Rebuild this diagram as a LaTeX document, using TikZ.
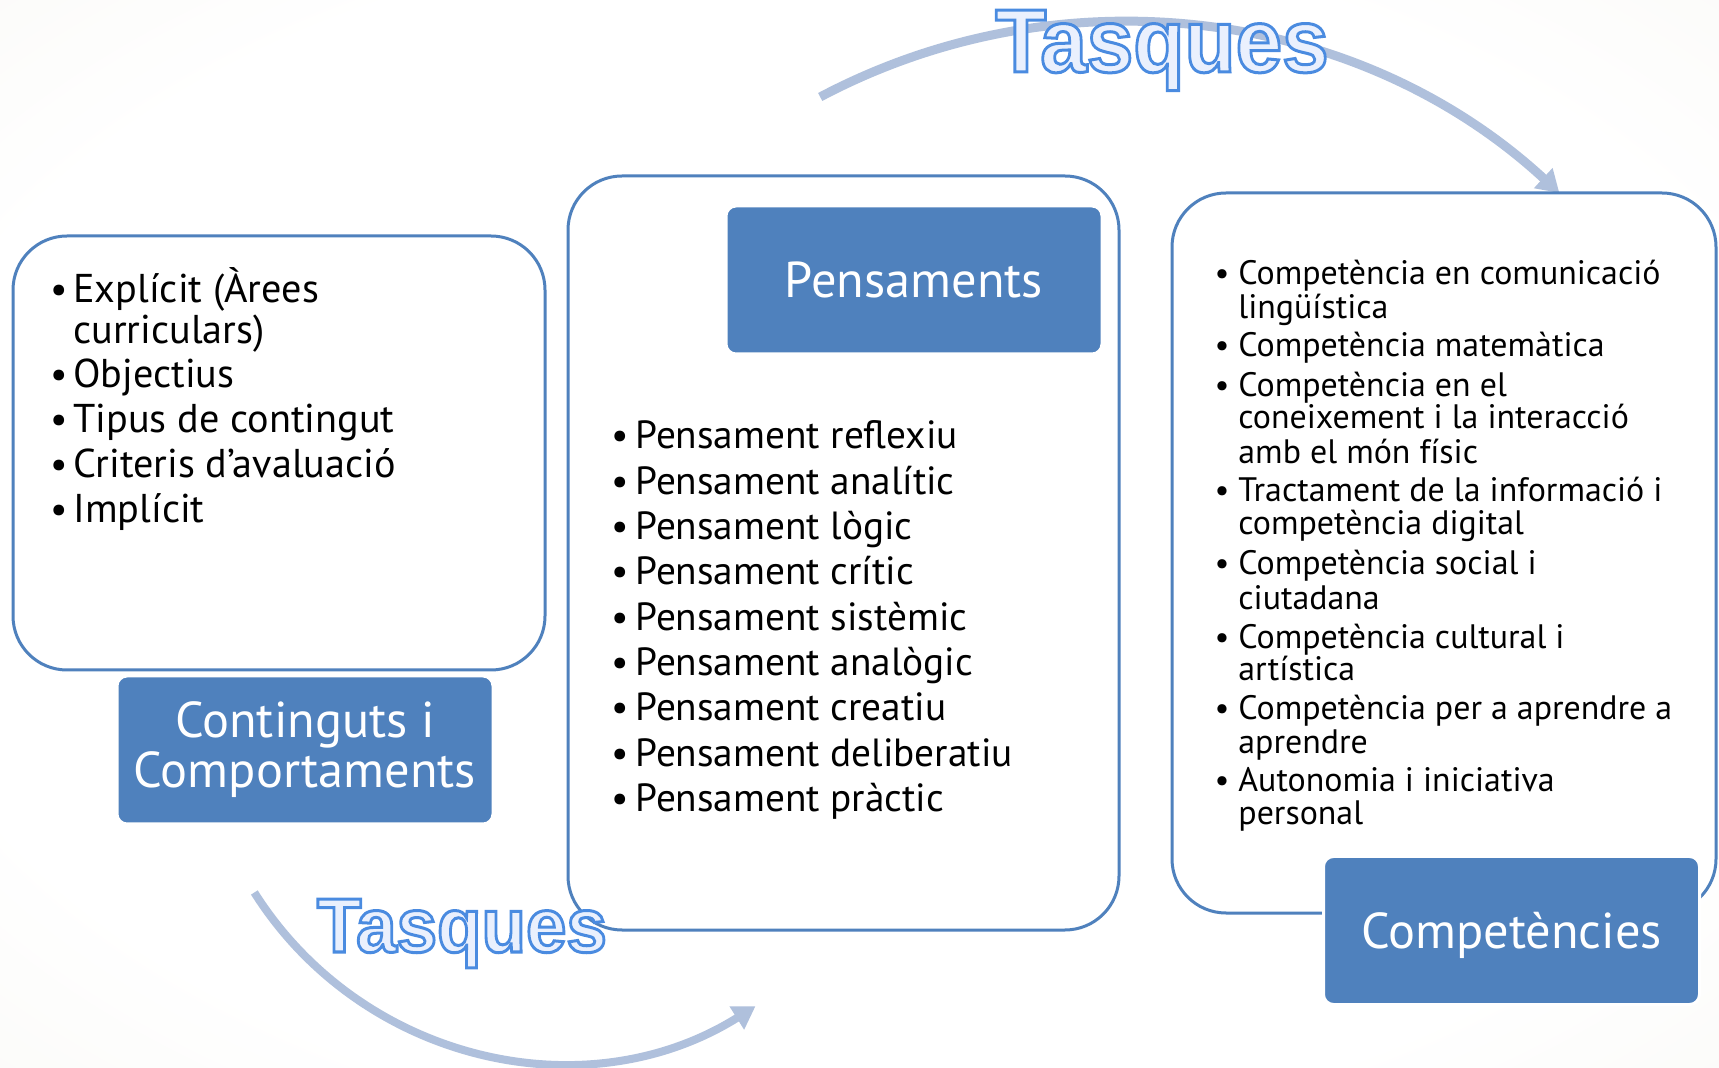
\documentclass[tikz,border=0pt]{standalone}
\usepackage{graphicx}
\usepackage{fontspec}
\setmainfont{PT Sans}
\newfontfamily\tasfont{Liberation Sans}
\usetikzlibrary{arrows.meta}
\definecolor{boxblue}{HTML}{4F81BD}
\definecolor{arcblue}{HTML}{AFC0DC}
\definecolor{tasfill}{HTML}{EAF0FD}
\definecolor{bgbeige}{HTML}{E9E6DA}
\definecolor{bgmid}{HTML}{F6F5F0}
\pgfdeclareradialshading{bgshade}{\pgfpoint{0bp}{0bp}}{color(0bp)=(white); color(28bp)=(white); color(48bp)=(bgmid); color(71bp)=(bgbeige)}
\newcommand{\tasword}[2]{\tasfont\bfseries\fontsize{#1}{#1}\selectfont\scalebox{#2}[1]{\color{tasfill}\special{pdf:literal direct 2 Tr 1.5 w 0.290 0.545 0.878 RG}Tasques\special{pdf:literal direct 0 Tr}}}
\begin{document}
\begin{tikzpicture}[x=0.5pt,y=-0.5pt,
  wbox/.style={draw=boxblue, line width=1.5pt, fill=white, rounded corners=27pt, inner sep=0pt},
  bbox/.style={draw=white, line width=1.5pt, fill=boxblue, rounded corners=5pt, inner sep=0pt,
     minimum width=188pt, minimum height=74pt, text=white, align=center,
     font=\fontsize{25.2}{25}\selectfont},
  ltext/.style={anchor=base west, inner sep=0pt, font=\fontsize{20.1}{22}\selectfont},
  mtext/.style={anchor=base west, inner sep=0pt, font=\fontsize{19.65}{22}\selectfont},
  rtext/.style={anchor=base west, inner sep=0pt, font=\fontsize{16.95}{18}\selectfont},
  lbul/.style={anchor=base east, inner sep=0pt, font=\fontsize{19.3}{22}\selectfont},
  rbul/.style={anchor=base east, inner sep=0pt, font=\fontsize{16.5}{18}\selectfont},
  arcline/.style={draw=arcblue, line width=4.5pt, -{Triangle[length=11pt,width=13pt]}},
  tas/.style={anchor=base, inner sep=0pt}]
\useasboundingbox (0,0) rectangle (1719,1068);
\shade[shading=bgshade] (0,0) rectangle (1719,1068);

% arcs
\coordinate (ctop) at (1122,667);
\coordinate (cbot) at (562,698);
\draw[arcline] (ctop) ++(-117.9:645) arc[start angle=-117.9, end angle=-47.3, radius=645];
\draw[arcline, line width=4pt] (cbot) ++(147.7:364) arc[start angle=147.7, end angle=57.9, radius=364];

% white boxes
\node[wbox, minimum width=266pt, minimum height=217pt] (left) at (279,453) {};
\node[wbox, minimum width=275.5pt, minimum height=377pt] (mid) at (843.5,553) {};
\node[wbox, minimum width=272pt, minimum height=360pt] (right) at (1444,553) {};

% blue boxes
\node[bbox] (cont) at (305,750) {Continguts i\\Comportaments};
\node[bbox, text depth=0pt] (pens) at (914,280) {Pensaments};
\node[bbox, text depth=0pt] (comp) at (1511.5,930.5) {Competències};

% left list
\node[ltext] (l1) at (73,303) {Explícit (Àrees};
\node[ltext] (l2) at (73,344) {curriculars)};
\node[ltext] (l3) at (73,388) {Objectius};
\node[ltext] (l4) at (73,433) {Tipus de contingut};
\node[ltext] (l5) at (73,478) {Criteris d’avaluació};
\node[ltext] (l6) at (73,523) {Implícit};
\foreach \yy [count=\n] in {303,388,433,478,523}
  \node[lbul] (lb\n) at (68,\yy) {•};

% middle list
\foreach \yy/\t [count=\n] in {449/{Pensament reflexiu}, 494.3/{Pensament analític},
   539.6/{Pensament lògic}, 584.9/{Pensament crític}, 630.2/{Pensament sistèmic},
   675.5/{Pensament analògic}, 720.8/{Pensament creatiu}, 766.1/{Pensament deliberatiu},
   811.4/{Pensament pràctic}}{
  \node[mtext] (m\n) at (635,\yy) {\t};
  \node[lbul] (mb\n) at (629,\yy) {•};
}

% right list
\foreach \yy/\t/\b [count=\n] in {285/{Competència en comunicació}/1, 319/{lingüística}/0,
   357/{Competència matemàtica}/1, 397/{Competència en el}/1,
   429/{coneixement i la interacció}/0, 464/{amb el món físic}/0,
   502/{Tractament de la informació i}/1, 535/{competència digital}/0,
   575/{Competència social i}/1, 610/{ciutadana}/0,
   649/{Competència cultural i}/1, 681/{artística}/0,
   720/{Competència per a aprendre a}/1, 754/{aprendre}/0,
   792/{Autonomia i iniciativa}/1, 825/{personal}/0}{
  \node[rtext] (r\n) at (1238,\yy) {\t};
  \ifnum\b=1 \node[rbul] (rb\n) at (1230,\yy) {•};\fi
}

% Tasques
\node[tas] (ttop) at (1162,72) {\tasword{45}{0.93}};
\node[tas] (tbot) at (462,952) {\tasword{38.5}{0.945}};
\end{tikzpicture}
\end{document}
